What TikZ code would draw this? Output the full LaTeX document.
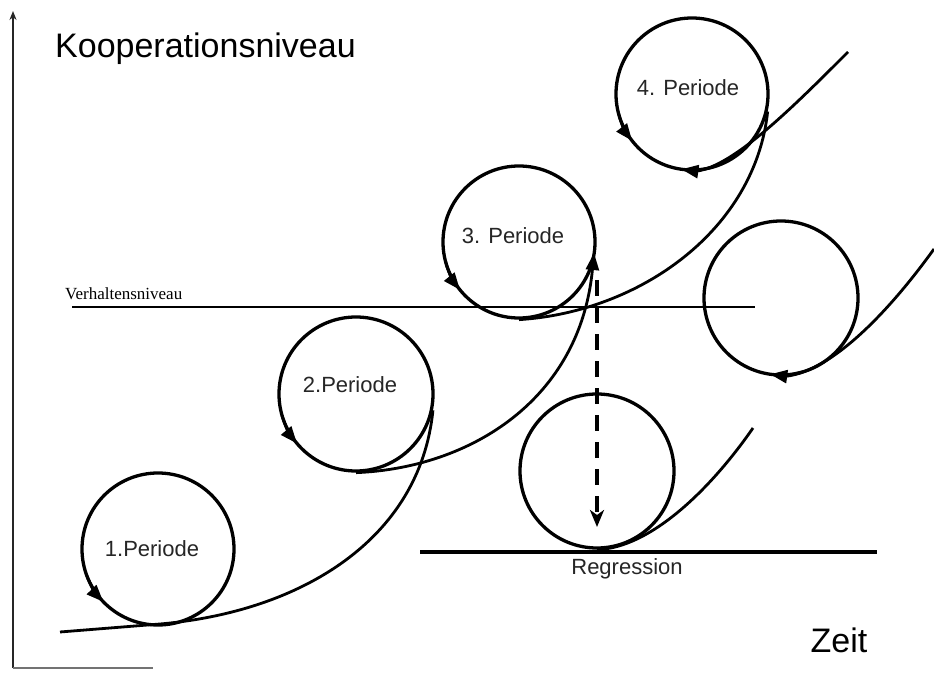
\documentclass[tikz,border=0pt]{standalone}
\usepackage{fontspec}
\setmainfont{Liberation Sans}
\newfontfamily\serifv{Liberation Serif}
\usetikzlibrary{arrows.meta,calc}
\begin{document}
\begin{tikzpicture}[x=1pt,y=1pt,
  circ/.style={circle,draw,line width=3.3pt,minimum size=#1,inner sep=0pt},
  curve/.style={line width=2.8pt},
  lvl/.style={line width=2.4pt},
  tip/.style={-{Triangle[length=17pt,width=13pt]}},
  lbl/.style={font=\fontsize{22}{26}\selectfont,text=black!85,inner sep=0pt},
  big/.style={font=\fontsize{34}{40}\selectfont,inner sep=0pt}]
\useasboundingbox[fill=white] (0,0) rectangle (934,673);
% axes
\coordinate (o) at (13,5);
\coordinate (ytop) at (13,662);
\coordinate (xend) at (153,5);
\draw[line width=1.6pt,black!85,-{Stealth[length=9pt,width=7pt]}] (o) -- (ytop);
\draw[line width=1.4pt,black!55] (o) -- (xend);
% circles
\node[circ=152pt] (c1) at (158,124) {};
\node[circ=154pt] (c2) at (356,279) {};
\node[circ=152pt] (c3) at (519,431) {};
\node[circ=152pt] (c4) at (692,579) {};
\node[circ=154pt] (c5) at (781,375) {};
\node[circ=154pt] (c6) at (597,202) {};
% labels
\node[lbl] (l1) at (152,124) {1.Periode};
\node[lbl] (l2) at (350,288) {2.Periode};
\node[lbl] (l3) at (513,437) {3. Periode};
\node[lbl] (l4) at (688,585) {4. Periode};
\node[lbl] (lr) at (627,104) {Regression};
\node[big,anchor=west] (ky) at (55,624) {Kooperationsniveau};
\node[big] (kx) at (839,33) {Zeit};
\node[anchor=west,inner sep=0pt,font=\serifv\fontsize{17}{20}\selectfont] (vn) at (65,379) {Verhaltensniveau};
% level lines
\coordinate (v0) at (72,366);
\coordinate (v1) at (755,366);
\draw[lvl] (v0) -- (v1);
\coordinate (r0) at (420,121);
\coordinate (r1) at (877,121);
\draw[line width=3.4pt] (r0) -- (r1);
% curves
\coordinate (a0) at (60,41);
\coordinate (a1) at (160,49);
\draw[curve] (a0) -- (a1) .. controls (300,61) and (420,133) .. (c2.-12);
\draw[curve,tip] (c2.south) .. controls (470,205) and (580,273) .. (594,420);
\draw[curve] (c3.south) .. controls (640,361) and (755,443) .. (c4.-13);
\coordinate (d1) at (848,621);
\draw[curve] (c4.south) .. controls (730,503) and (790,563) .. (d1);
\coordinate (e1) at (934,424);
\draw[curve] (c5.south) .. controls (830,298) and (890,363) .. (e1);
\coordinate (f1) at (753,245);
\draw[curve] (c6.south) .. controls (650,125) and (710,183) .. (f1);
% dashed arrow
\coordinate (s0) at (597,393);
\coordinate (s1) at (597,146);
\draw[line width=3.4pt,dash pattern=on 16pt off 11pt,-{Stealth[length=17pt,width=14pt,inset=5pt]}] (s0) -- (s1);
% arrowheads on circles
\draw[curve,tip] ([shift={(200:76)}]c1.center) arc[start angle=200,end angle=224,radius=76];
\draw[curve,tip] ([shift={(196:77)}]c2.center) arc[start angle=196,end angle=220,radius=77];
\draw[curve,tip] ([shift={(195:76)}]c3.center) arc[start angle=195,end angle=219,radius=76];
\draw[curve,tip] ([shift={(194:76)}]c4.center) arc[start angle=194,end angle=218,radius=76];
\draw[curve,tip] ([shift={(286:76)}]c4.center) arc[start angle=286,end angle=262,radius=76];
\draw[curve,tip] ([shift={(286:77)}]c5.center) arc[start angle=286,end angle=262,radius=77];
\end{tikzpicture}
\end{document}
